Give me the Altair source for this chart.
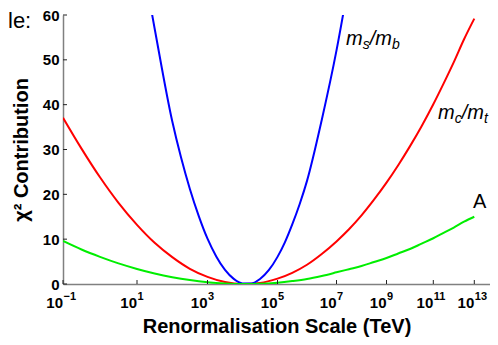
import altair as alt
import pandas as pd

# log10 of renormalisation scale (TeV) sample points
log_scale = [-1, -0.5, 0, 0.5, 1, 1.5, 2, 2.5, 3, 3.5, 4, 4.5, 5, 5.5, 6, 6.5, 7,
             7.5, 8, 8.5, 9, 9.5, 10, 10.5, 11, 11.5, 12, 12.5, 13]
red_vals = [37.1, 30.2, 23.8, 18.1, 13.2, 9.2, 6.0, 3.4, 1.6, 0.45, 0.02, 0.25, 1.2,
            2.5, 4.3, 6.7, 9.5, 12.2, 15.3, 18.8, 22.6, 26.5, 30.7, 35.2, 40.1,
            44.7, 49.5, 54.6, 59.2]
green_vals = [9.6, 7.7, 6.06, 4.6, 3.36, 2.35, 1.52, 0.87, 0.40, 0.12, 0.0, 0.06, 0.30,
              0.66, 1.12, 1.8, 2.6, 3.3, 4.0, 4.9, 5.8, 6.8, 7.8, 9.0, 10.2, 11.4,
              12.6, 13.9, 15.0]
blue_scale = [1, 1.5, 2, 2.25, 2.5, 2.75, 3, 3.25, 3.5, 3.75, 4, 4.25, 4.5, 4.75,
              5, 5.25, 5.5, 5.75, 6, 6.5, 7, 7.5]
blue_vals = [78.7, 57.0, 36.3, 28.2, 21.2, 15.2, 10.1, 6.15, 3.15, 1.14, 0.13, 0.12,
             1.1, 3.07, 6.05, 9.3, 13.3, 17.8, 23.0, 36.6, 52.1, 67.6]

tick_exponents = [-1, 1, 3, 5, 7, 9, 11, 13]
tick_base = ["10"] * 8
tick_powers = ["−1", "1", "3", "5", "7", "9", "11", "13"]
y_ticks = [0, 10, 20, 30, 40, 50, 60]

# the original axis is not evenly spaced in log10: piecewise scale
scale_breaks = [-1, 1, 3, 5, 7, 9, 11, 13, 13.77]
scale_pixels = [0, 74, 144.5, 214.5, 273.5, 323.5, 370.3, 411.3, 427]

label_k = [7.38, 11.23, 12.94]
label_v = [53.2, 36.9, 17.0]

W, H = 427, 269
FONT = "Liberation Sans"

xscale = alt.Scale(domain=scale_breaks, range=scale_pixels, nice=False, zero=False)
yscale = alt.Scale(domain=[0, 60], nice=False, zero=False)

xenc = alt.X("k:Q", scale=xscale,
             axis=alt.Axis(values=tick_exponents, labels=False,
                           title="Renormalisation Scale (TeV)", titlePadding=32))
yenc = alt.Y("v:Q", scale=yscale,
             axis=alt.Axis(values=y_ticks, title="χ² Contribution", labelPadding=4,
                           titlePadding=11))


def line(ks, vs, color):
    df = pd.DataFrame({"k": ks, "v": vs})
    return alt.Chart(df).mark_line(color=color, strokeWidth=2, clip=True,
                                   interpolate="monotone").encode(x=xenc, y=yenc)


red_line = line(log_scale, red_vals, "#ff0000")
blue_line = line(blue_scale, blue_vals, "#0000ff")
green_line = line(log_scale, green_vals, "#00ee00")

tick_df = pd.DataFrame({"k": tick_exponents, "b": tick_base, "p": tick_powers})
xt = alt.Chart(tick_df).mark_rule(color="#222222", strokeWidth=1).encode(
    x=alt.X("k:Q", scale=xscale), y=alt.value(H), y2=alt.value(H - 4))
yt = alt.Chart(pd.DataFrame({"v": y_ticks})).mark_rule(
    color="#222222", strokeWidth=1).encode(
    y=alt.Y("v:Q", scale=yscale), x=alt.value(0), x2=alt.value(4))

xlab_base = alt.Chart(tick_df).mark_text(
    align="right", baseline="alphabetic", fontSize=15, fontWeight="bold",
    font=FONT, color="black").encode(
    x=alt.X("k:Q", scale=xscale), y=alt.value(H + 24), text="b:N")
xlab_pow = alt.Chart(tick_df).mark_text(
    align="left", baseline="alphabetic", fontSize=11, fontWeight="bold",
    font=FONT, color="black", dx=0.5).encode(
    x=alt.X("k:Q", scale=xscale), y=alt.value(H + 16), text="p:N")


def piece(i, txt, size, dx, dy, italic=True):
    df = pd.DataFrame({"k": [label_k[i]], "v": [label_v[i]], "t": [txt]})
    return alt.Chart(df).mark_text(
        align="left", baseline="alphabetic", dx=dx, dy=dy, fontSize=size,
        fontStyle="italic" if italic else "normal", font=FONT, color="black"
    ).encode(x=alt.X("k:Q", scale=xscale), y=alt.Y("v:Q", scale=yscale), text="t:N")


labels = [
    piece(0, "m", 20, 0, 0), piece(0, "s", 14, 16.7, 4),
    piece(0, "/m", 20, 23.7, 0), piece(0, "b", 14, 46, 4),
    piece(1, "m", 20, 0, 0), piece(1, "c", 14, 16.7, 4),
    piece(1, "/m", 20, 23.7, 0), piece(1, "t", 14, 46, 4),
    piece(2, "A", 20, 0, 0, italic=False),
]

fragment = alt.Chart(pd.DataFrame({"t": ["le:"]})).mark_text(
    align="left", baseline="alphabetic", fontSize=22, font=FONT, color="black"
).encode(x=alt.value(-55), y=alt.value(13), text="t:N")

chart = alt.layer(red_line, blue_line, green_line, xt, yt, xlab_base, xlab_pow,
                  *labels, fragment).properties(
    width=W, height=H,
    padding={"left": 55, "top": 7, "right": 0, "bottom": 53},
    autosize=alt.AutoSizeParams(type="none"),
).configure_view(stroke=None).configure_axis(
    domainColor="#808080", domainWidth=1.5, ticks=False, grid=False,
    labelFont=FONT, labelFontWeight="bold", labelFontSize=15, labelColor="black",
    titleFont=FONT, titleFontWeight="bold", titleFontSize=20, titleColor="black",
)

chart.save("out.html", embed_options={"renderer": "svg", "actions": False})
